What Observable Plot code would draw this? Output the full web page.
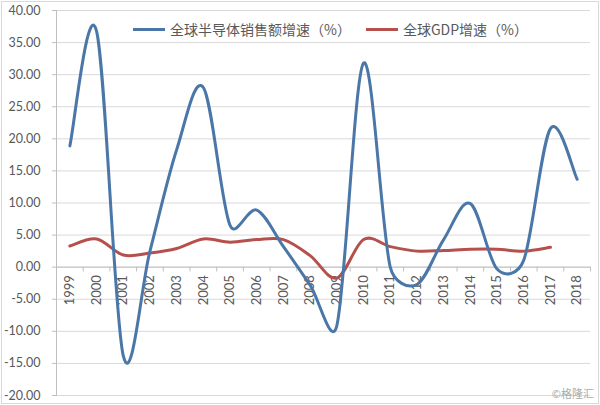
<!DOCTYPE html>
<html><head><meta charset="utf-8">
<script src="https://cdn.jsdelivr.net/npm/d3@7"></script>
<script src="https://cdn.jsdelivr.net/npm/@observablehq/plot@0.6"></script>
<style>
body{margin:0;background:#fff;}
#wrap{position:relative;width:600px;height:405px;overflow:hidden;background:#fff}
#border{position:absolute;left:1px;top:1px;width:596px;height:401px;border:1px solid #d9d9d9;pointer-events:none}
#legend{position:absolute;left:133px;top:19px;display:flex;align-items:center;font-family:"Noto Sans CJK SC";font-size:14px;color:#595959;white-space:nowrap}
.sw{display:inline-block;width:32px;height:3px;margin-right:5px}
#wm{position:absolute;right:6px;top:385px;font-size:11px;color:#aaa;font-family:"Noto Sans CJK SC"}
</style></head>
<body>
<div id="wrap">
  <div id="chart"></div>
  <div id="legend"></div>
  <div id="wm">©格隆汇</div>
  <div id="border"></div>
</div>
<script>
const years = [1999,2000,2001,2002,2003,2004,2005,2006,2007,2008,2009,2010,2011,2012,2013,2014,2015,2016,2017,2018];
const semi = [18.9,36.8,-13.8,2.5,18.3,28.0,6.5,8.9,3.2,-2.8,-9.1,31.8,0.0,-2.7,4.3,9.9,-0.3,1.1,21.6,13.7];
const gdp = [3.3,4.4,1.9,2.2,2.9,4.4,3.9,4.3,4.3,1.8,-1.7,4.3,3.2,2.5,2.6,2.8,2.8,2.5,3.1,null];
const yTicks = [-20,-15,-10,-5,0,5,10,15,20,25,30,35,40];
const seriesNames = ["全球半导体销售额增速（%）","全球GDP增速（%）"];
const colors = ["#4a77a8","#b5504d"];

const semiData = years.map((y,i)=>({year:y, v:semi[i]}));
const gdpData = years.map((y,i)=>({year:y, v:gdp[i]})).filter(d=>d.v!=null);
const bounds = years.map(y=>y-0.5).concat([years[years.length-1]+0.5]);

// Spreadsheet-style smoothed line (Bezier with capped handles)
function smoothCurve(context) {
  let pts;
  return {
    areaStart(){}, areaEnd(){},
    lineStart(){ pts = []; },
    point(x, y){ pts.push([+x, +y]); },
    lineEnd(){
      const n = pts.length;
      if (!n) return;
      context.moveTo(pts[0][0], pts[0][1]);
      for (let i = 0; i < n - 1; i++) {
        const p1 = pts[i], p2 = pts[i+1], p0 = pts[i-1] || p1, p3 = pts[i+2] || p2;
        const d12 = Math.hypot(p2[0]-p1[0], p2[1]-p1[1]);
        const d02 = Math.hypot(p2[0]-p0[0], p2[1]-p0[1]);
        const d13 = Math.hypot(p3[0]-p1[0], p3[1]-p1[1]);
        let s1 = 1/6, s2 = 1/6;
        if (d02/6 > d12/2) s1 = d12/2/d02;
        if (d13/6 > d12/2) s2 = d12/2/d13;
        context.bezierCurveTo(
          p1[0] + (p2[0]-p0[0])*s1, p1[1] + (p2[1]-p0[1])*s1,
          p2[0] - (p3[0]-p1[0])*s2, p2[1] - (p3[1]-p1[1])*s2,
          p2[0], p2[1]);
      }
    }
  };
}

const plot = Plot.plot({
  width: 600, height: 405,
  marginLeft: 56, marginRight: 10, marginTop: 10, marginBottom: 10,
  style: {fontFamily: "Lato", fontSize: "12.5px", color: "#595959", background: "transparent"},
  x: {domain: [years[0]-0.5, years[years.length-1]+0.5], axis: null},
  y: {domain: [-20, 40], axis: null},
  marks: [
    Plot.ruleY(yTicks, {stroke: "#d9d9d9", strokeWidth: 1}),
    Plot.frame({anchor: "left", stroke: "#bfbfbf"}),
    Plot.axisY({ticks: yTicks, tickFormat: d => d.toFixed(2), tickSize: 4, tickPadding: 12, stroke: "#bfbfbf", fill: "#595959", label: null, fontSize: 12.5}),
    Plot.ruleY([0], {stroke: "#bfbfbf"}),
    Plot.ruleX(bounds, {x: d=>d, y1: 0, y2: -0.75, stroke: "#bfbfbf"}),
    Plot.text(years, {x: d=>d, y: ()=>0, text: d=>String(d), rotate: -90, textAnchor: "end", dy: 8, fill: "#595959", fontSize: 13}),
    Plot.line(gdpData, {x: "year", y: "v", stroke: colors[1], strokeWidth: 3, curve: smoothCurve}),
    Plot.line(semiData, {x: "year", y: "v", stroke: colors[0], strokeWidth: 3, curve: smoothCurve})
  ]
});
document.getElementById("chart").appendChild(plot);

const leg = document.getElementById("legend");
seriesNames.forEach((n,i)=>{
  const item = document.createElement("span");
  item.style.display = "inline-flex"; item.style.alignItems = "center";
  item.style.marginRight = i===0 ? "15px" : "0";
  item.innerHTML = `<span class="sw" style="background:${colors[i]}"></span><span>${n}</span>`;
  leg.appendChild(item);
});
</script>
</body></html>
